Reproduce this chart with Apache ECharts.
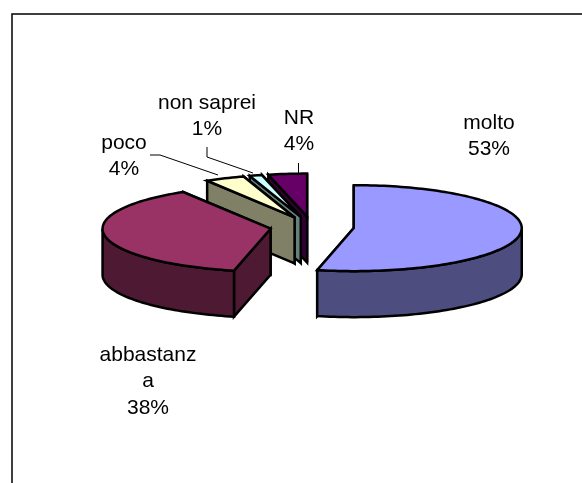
<!DOCTYPE html>
<html>
<head>
<meta charset="utf-8">
<style>html,body{margin:0;padding:0;background:#fff}#c{width:582px;height:483px}</style>
<script src="https://cdn.jsdelivr.net/npm/echarts@6/dist/echarts.min.js"></script>
</head>
<body>
<div id="c"></div>
<script>
const categories = ['molto', 'abbastanza', 'poco', 'non saprei', 'NR'];
const labelTexts = ['molto', 'abbastanz\na', 'poco', 'non saprei', 'NR'];
const values = [53.49, 37.8, 3.8, 1.2, 3.71];
const percentLabels = ['53%', '38%', '4%', '1%', '4%'];
const topColors = ['#9999ff', '#993366', '#ffffcc', '#ccffff', '#660066'];
const sideColors = ['#4d4d80', '#4d1933', '#808066', '#668080', '#330033'];

const pie = { cx: 312, cy: 227, rx: 168, ry: 43, depth: 46, explode: 42, explodeY: 10.5 };
const labelAnchors = [[489, 136], [148, 381.5], [124, 156], [207, 116], [299, 131]];
const leaders = [
  null, null,
  [[150, 155], [160, 155], [218, 175]],
  [[207, 147], [207, 157], [253, 173]],
  [[298.5, 163], [298.5, 173]]
];

const total = values.reduce((a, b) => a + b, 0);
let running = 0;
const slices = values.map((v, i) => {
  const start = running / total * 360;
  running += v;
  const end = running / total * 360;
  return { i, start, end };
});
const drawOrder = slices.map(s => s.i).reverse();
const rad = d => d * Math.PI / 180;

function renderItem(params, api) {
  const s = slices[api.value(0)];
  const mid = rad((s.start + s.end) / 2);
  const ax = pie.cx + pie.explode * Math.sin(mid);
  const ay = pie.cy - pie.explodeY * Math.cos(mid);
  const pt = d => [ax + pie.rx * Math.sin(rad(d)), ay - pie.ry * Math.cos(rad(d))];
  const down = p => [p[0], p[1] + pie.depth];
  const arc = (a, b) => {
    const pts = [];
    const n = Math.max(2, Math.ceil((b - a) / 1.5));
    for (let k = 0; k <= n; k++) pts.push(pt(a + (b - a) * k / n));
    return pts;
  };
  const apex = [ax, ay];
  const line = { stroke: '#000', lineWidth: 2.5, lineJoin: 'miter', miterLimit: 4 };
  const poly = (points, fill) => ({
    type: 'polygon', shape: { points },
    style: Object.assign({ fill }, line)
  });
  const side = sideColors[s.i];
  const children = [];
  children.push(poly([apex, pt(s.end), down(pt(s.end)), down(apex)], side));
  children.push(poly([apex, pt(s.start), down(pt(s.start)), down(apex)], side));
  const ra = Math.max(s.start, 90), rb = Math.min(s.end, 270);
  if (rb > ra) {
    const rim = arc(ra, rb);
    children.push(poly(rim.concat(rim.slice().reverse().map(down)), side));
  }
  children.push(poly([apex].concat(arc(s.start, s.end)), topColors[s.i]));
  return { type: 'group', children };
}

function renderLabel(params, api) {
  const i = api.value(0);
  const children = [];
  if (leaders[i]) children.push({
    type: 'polyline', shape: { points: leaders[i] },
    style: { fill: null, stroke: '#000', lineWidth: 1 }
  });
  children.push({
    type: 'text',
    style: {
      x: labelAnchors[i][0], y: labelAnchors[i][1],
      text: labelTexts[i] + '\n' + percentLabels[i],
      fill: '#000', font: '21px "Liberation Sans", Arial, sans-serif',
      lineHeight: 26.5, align: 'center', verticalAlign: 'middle'
    }
  });
  return { type: 'group', children };
}

const chart = echarts.init(document.getElementById('c'), null, { renderer: 'canvas' });
chart.setOption({
  animation: false,
  backgroundColor: '#fff',
  graphic: [{
    type: 'polyline', silent: true, z: 10,
    shape: { points: [[12, 483], [12, 14], [582, 14]] },
    style: { fill: null, stroke: '#000', lineWidth: 1.5 }
  }],
  series: [
    {
      type: 'custom', coordinateSystem: 'none', silent: true, z: 2,
      renderItem,
      data: drawOrder.map(i => ({ name: categories[i], value: [i, values[i]] }))
    },
    {
      type: 'custom', coordinateSystem: 'none', silent: true, z: 3,
      renderItem: renderLabel,
      data: drawOrder.map(i => ({ name: categories[i], value: [i, values[i]] }))
    }
  ]
});
</script>
</body>
</html>
